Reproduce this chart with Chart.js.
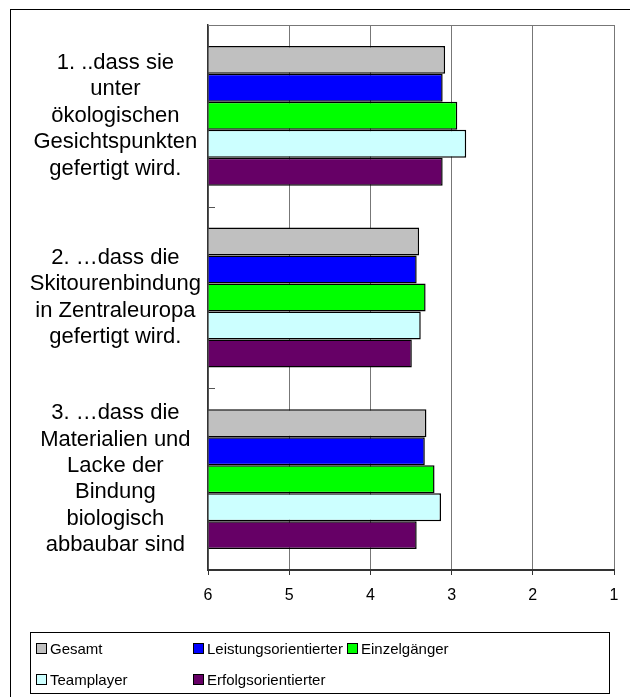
<!DOCTYPE html>
<html>
<head>
<meta charset="utf-8">
<script src="https://cdn.jsdelivr.net/npm/chart.js@4.4.1/dist/chart.umd.min.js"></script>
<style>
  html, body { margin: 0; padding: 0; background: #fff; overflow: hidden; }
  #wrap { position: relative; width: 630px; height: 697px; }
  #frame { position: absolute; left: 10px; top: 9px; width: 700px; height: 700px; border: 1px solid #000; }
  #chart { position: absolute; left: 0; top: 0; }
  #legend {
    position: absolute; left: 30px; top: 632px; width: 580px; height: 62px;
    border: 1px solid #000; box-sizing: border-box;
    font-family: "Liberation Sans", Arial, sans-serif; font-size: 15px; color: #000;
    display: grid; grid-template-columns: 157px 154px auto; grid-auto-rows: 31px;
    padding-left: 5px;
  }
  .item { display: flex; align-items: center; white-space: nowrap; }
  .box { width: 9px; height: 9px; border: 1px solid #000; margin-right: 3px; flex: none; }
</style>
</head>
<body>
<div id="wrap">
  <div id="frame"></div>
  <canvas id="chart" width="630" height="697"></canvas>
  <div id="legend"></div>
</div>
<script>
const categories = [
  ["1. ..dass sie", "unter", "ökologischen", "Gesichtspunkten", "gefertigt wird."],
  ["2. …dass die", "Skitourenbindung", "in Zentraleuropa", "gefertigt wird."],
  ["3. …dass die", "Materialien und", "Lacke der", "Bindung", "biologisch", "abbaubar sind"]
];
const seriesNames = ["Gesamt", "Leistungsorientierter", "Einzelgänger", "Teamplayer", "Erfolgsorientierter"];
const gesamt = [3.08, 3.40, 3.31];
const leistung = [3.11, 3.43, 3.33];
const einzel = [2.93, 3.32, 3.21];
const team = [2.82, 3.38, 3.13];
const erfolg = [3.11, 3.49, 3.43];
const colors = ["#c0c0c0", "#0000ff", "#00ff00", "#ccffff", "#660066"];
const xTicks = [1, 2, 3, 4, 5, 6];

const values = [gesamt, leistung, einzel, team, erfolg];

// frame bits Excel draws: top edge of plot and small marks at the category borders
const plotBits = {
  id: "plotBits",
  afterDraw(chart) {
    const ctx = chart.ctx;
    const a = chart.chartArea;
    const y = chart.scales.y;
    ctx.save();
    ctx.strokeStyle = "#777";
    ctx.lineWidth = 1;
    ctx.beginPath();
    ctx.moveTo(a.left, a.top + 0.5);
    ctx.lineTo(a.right, a.top + 0.5);
    ctx.stroke();
    ctx.strokeStyle = "#555";
    for (let i = 0; i < categories.length - 1; i++) {
      const yy = Math.round((y.getPixelForTick(i) + y.getPixelForTick(i + 1)) / 2) + 0.5;
      ctx.beginPath();
      ctx.moveTo(a.left, yy);
      ctx.lineTo(a.left + 7, yy);
      ctx.stroke();
    }
    ctx.restore();
  }
};

const chart = new Chart(document.getElementById("chart"), {
  type: "bar",
  data: {
    labels: categories,
    datasets: seriesNames.map((name, i) => ({
      label: name,
      data: values[i],
      base: 6,
      backgroundColor: colors[i],
      borderColor: "#000",
      borderWidth: 1.5,
      categoryPercentage: 0.77,
      barPercentage: 1
    }))
  },
  options: {
    indexAxis: "y",
    responsive: false,
    animation: false,
    layout: { padding: { top: 25, right: 16, bottom: 87, left: 0 } },
    plugins: {
      legend: { display: false },
      tooltip: { enabled: false }
    },
    scales: {
      x: {
        min: 1,
        max: 6,
        reverse: true,
        afterBuildTicks: (s) => { s.ticks = xTicks.map(v => ({ value: v })); },
        afterFit: (s) => { s.height = 40; s.paddingLeft = 0; s.paddingRight = 0; },
        ticks: {
          color: "#000",
          padding: 11,
          font: { family: "'Liberation Sans', Arial, sans-serif", size: 16 }
        },
        grid: { color: "#777", lineWidth: 1, tickLength: 5, tickColor: "#333" },
        border: { color: "#333", width: 2 }
      },
      y: {
        afterFit: (s) => { s.width = 208; s.paddingTop = 0; s.paddingBottom = 0; },
        ticks: {
          color: "#000",
          crossAlign: "center",
          padding: 7,
          font: { family: "'Liberation Sans', Arial, sans-serif", size: 22, lineHeight: 1.2 }
        },
        grid: { display: false, drawTicks: false },
        border: { color: "#333", width: 1.5 }
      }
    }
  },
  plugins: [plotBits]
});

// legend laid out in columns like the original
const legend = document.getElementById("legend");
seriesNames.forEach((name, i) => {
  const item = document.createElement("div");
  item.className = "item";
  item.innerHTML = '<span class="box" style="background:' + colors[i] + '"></span>' + name;
  legend.appendChild(item);
});
</script>
</body>
</html>
